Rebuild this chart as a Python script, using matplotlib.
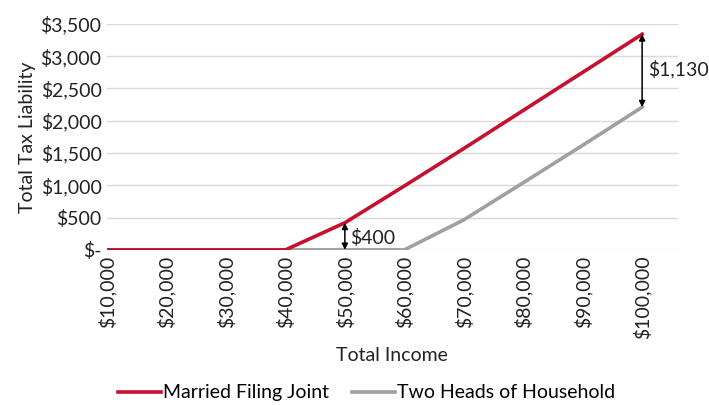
import matplotlib
matplotlib.use("Agg")
import matplotlib.pyplot as plt

plt.rcParams['font.family'] = ['Lato', 'DejaVu Sans']

# dados
renda = ["$10,000", "$20,000", "$30,000", "$40,000", "$50,000",
         "$60,000", "$70,000", "$80,000", "$90,000", "$100,000"]
casados = [0, 0, 0, 0, 420, 990, 1570, 2160, 2750, 3340]
dois_chefes = [0, 0, 0, 0, 0, 0, 465, 1040, 1620, 2210]
yticks = [0, 500, 1000, 1500, 2000, 2500, 3000, 3500]
ylabels = ["$-", "$500", "$1,000", "$1,500", "$2,000", "$2,500", "$3,000", "$3,500"]

VERMELHO = "#C8102E"
CINZA = "#A0A0A0"
FS = 14

fig = plt.figure(figsize=(7.09, 4.05), dpi=100)
ax = fig.add_axes([0.151, 0.383, 0.805, 0.558])

x = list(range(len(renda)))
ax.plot(x, dois_chefes, color=CINZA, lw=2.6, label="Two Heads of Household", zorder=3)
ax.plot(x, casados, color=VERMELHO, lw=2.6, label="Married Filing Joint", zorder=4)

ax.set_xlim(0, 9.6)
ax.set_ylim(0, 3500)
ax.set_yticks(yticks)
ax.set_yticklabels(ylabels, fontsize=FS, color="#222222")
ax.set_xticks(x)
ax.set_xticklabels(renda, rotation=90, fontsize=FS, color="#222222")
ax.tick_params(length=0, pad=4)
ax.grid(axis="y", color="#D9D9D9", lw=1)
ax.set_axisbelow(True)
for s in ax.spines.values():
    s.set_visible(False)

ax.set_ylabel("Total Tax Liability", fontsize=FS, color="#222222", labelpad=3)
ax.set_xlabel("Total Income", fontsize=FS, color="#222222", labelpad=6)

# setas de diferença
seta = dict(arrowstyle="<|-|>", color="black", lw=1.1, mutation_scale=9, shrinkA=0, shrinkB=0)
ax.annotate("", xy=(4, casados[4]), xytext=(4, dois_chefes[4]), arrowprops=seta, zorder=5)
ax.text(4.08, 190, "$400", fontsize=FS, va="center", ha="left", color="#222222")
ax.annotate("", xy=(9, casados[9]), xytext=(9, dois_chefes[9]), arrowprops=seta, zorder=5)
ax.text(9.1, 2800, "$1,130", fontsize=FS, va="center", ha="left", color="#222222")

h, l = ax.get_legend_handles_labels()
fig.legend(h[::-1], l[::-1], loc="center", bbox_to_anchor=(0.517, 0.03), ncol=2,
           frameon=False, fontsize=FS, handlelength=2.2, handletextpad=0.1,
           columnspacing=1.2)

fig.savefig("out.png", dpi=100)
